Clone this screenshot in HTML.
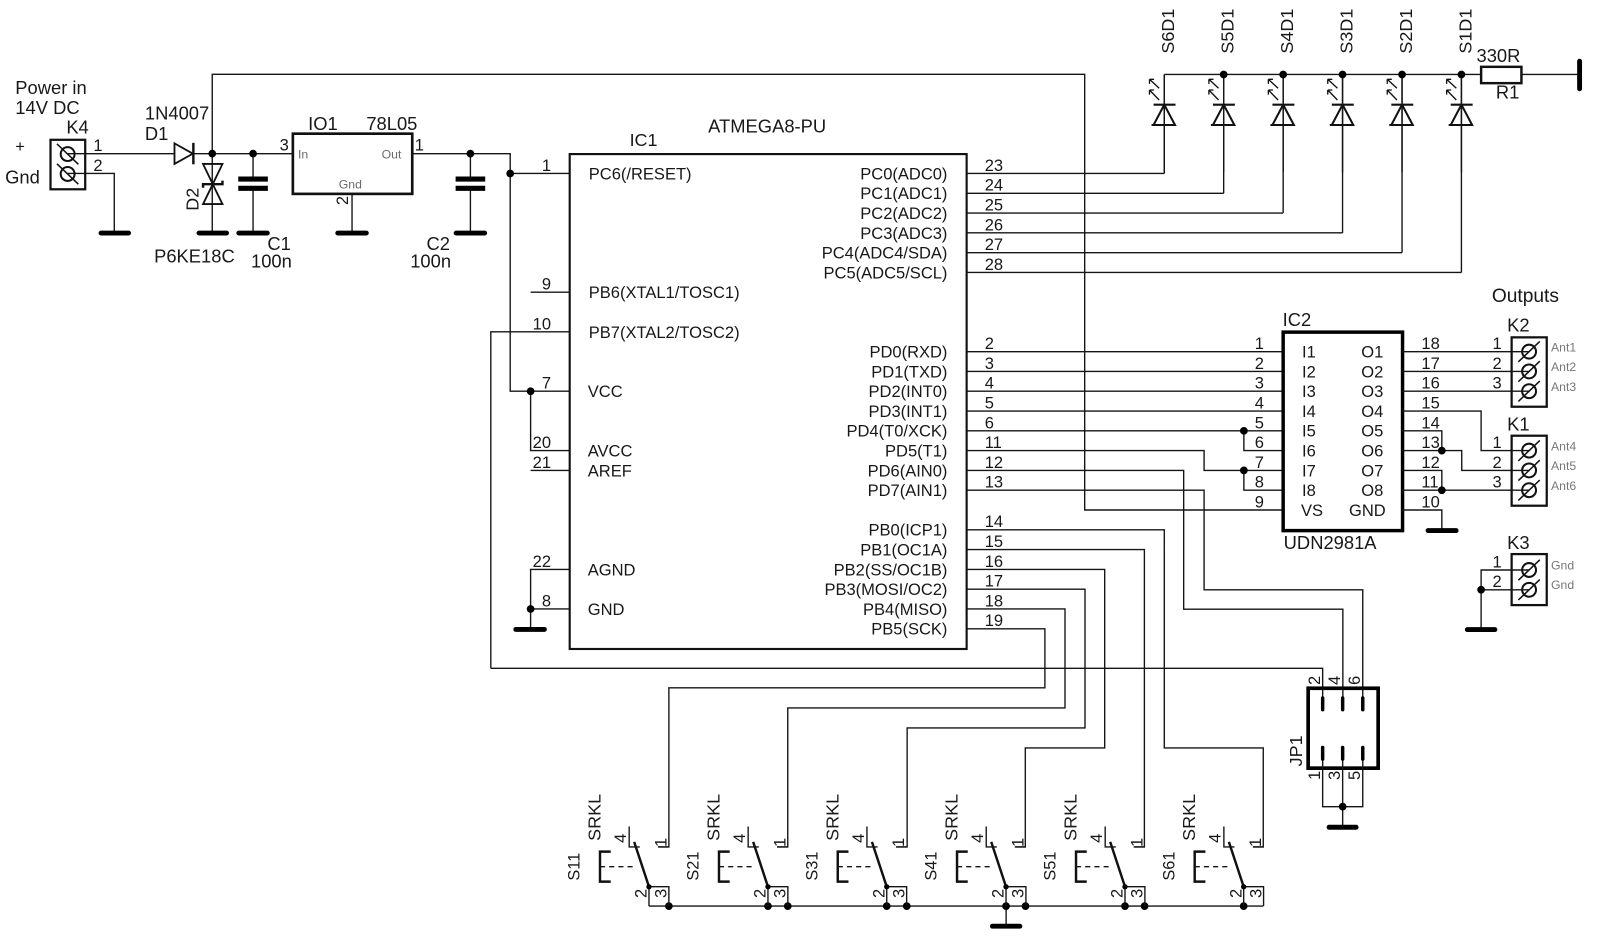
<!DOCTYPE html>
<html><head><meta charset="utf-8"><title>Schematic</title>
<style>
html,body{margin:0;padding:0;background:#fff}
svg{display:block;width:1600px;height:946px}
text{font-family:"Liberation Sans",Arial,sans-serif;font-size:16.2px;fill:#181818}
.a{font-size:18px}
.k{font-size:17.6px}
.s{font-size:16px}
.g{font-size:12px;fill:#6a6a6a}
.h{font-size:12px;fill:#777}
.r{text-anchor:end}
.w{fill:none;stroke:#151515;stroke-width:1.35}
.n{fill:none;stroke:#000;stroke-width:7.6;stroke-linecap:round}
.t{fill:none;stroke:#000;stroke-width:4.8;stroke-linecap:round}
.b{fill:none;stroke:#111;stroke-width:2.4}
</style></head><body>
<svg xmlns="http://www.w3.org/2000/svg" viewBox="0 0 1568 927.08">
<defs>
<g id="led" fill="none" stroke="#111">
<path d="M0 0V96" stroke-width="1.35"/>
<path d="M-10.5 29.6H11M0 29.6L10.5 49.5H-10.5Z M-12.5 49.5H-9" stroke-width="2"/>
<path d="M-14.5 4.7L-5 13.5M-14.5 15.2L-5 25M-14.5 4.7h4.5M-14.5 4.7v4.5M-14.5 15.2h4.5M-14.5 15.2v4.5" stroke-width="1.3"/>
</g>
<g id="scr" fill="none" stroke="#111">
<circle r="6.8" stroke-width="2"/><path d="M-10.5 10L10.5-10" stroke-width="1.5"/>
</g>
<g id="scl" fill="none" stroke="#111">
<circle r="6.8" stroke-width="2"/><path d="M-10.5-10L10.5 10" stroke-width="1.5"/>
</g>
<g id="sw">
<path class="w" d="M-19.4-59V-39H-9M9-39H19.5M0 0H19.5V19M0 0V19"/>
<path class="b" d="M0 0L-14.5-44"/>
<path class="b" d="M-37.5-34.4H-48V-5H-37.5"/>
<path class="w" d="M-48-19.6H-15" stroke-dasharray="5 4"/>
<circle r="2.6" fill="#000"/>
</g>
</defs>

<!-- power section -->
<path class="w" d="M66 150.6H171M66 170H112V228.4M189 150.6H287M208 150.6V72.8H1063V499.8H1257M208 150.6V228.4M248 150.6V175M248 184.5V228.4M345 190V228.4M404 150.6H500V383.4H558M461 150.6V175M461 184.5V228.4M500 170H558"/>
<path d="M171 140.5L189 150.6L171 160.7Z" fill="none" stroke="#111" stroke-width="1.8"/>
<path class="b" d="M189.5 140V161"/>
<path d="M199 160.7H218L208.5 180.5ZM199 200H218L208.5 180.5Z" fill="none" stroke="#111" stroke-width="1.8"/>
<path class="b" d="M199 184V180.5H218V177"/>
<rect x="49.5" y="137" width="34" height="48.5" fill="none" stroke="#111" stroke-width="2.2"/>
<use href="#scl" x="66.3" y="151"/><use href="#scl" x="66.3" y="170.5"/>
<path d="M233.5 175.5H262.5M233.5 184.5H262.5M446.5 175.5H475.5M446.5 184.5H475.5" fill="none" stroke="#000" stroke-width="5"/>
<rect x="287" y="131" width="117" height="59" fill="none" stroke="#111" stroke-width="2.6"/>
<path class="t" d="M99 228.4H126M195 228.4H222M234 228.4H262M331 228.4H359M447 228.4H475"/>
<path class="n" d="M208 150.6h0M248 150.6h0M461 150.6h0M500 170h0"/>

<text x="15" y="92" class="a">Power in</text><text x="15" y="111.7" class="a">14V DC</text>
<text x="65" y="131" class="a">K4</text><text x="15" y="149">+</text><text x="5" y="179.6" class="a">Gnd</text>
<text x="91.5" y="148.2">1</text><text x="91.5" y="167.5">2</text>
<text x="142" y="117" class="a">1N4007</text><text x="142" y="137" class="a">D1</text>
<text x="302" y="127.4" class="a">IO1</text><text x="359" y="127.4" class="a">78L05</text>
<text x="274" y="147.7">3</text><text x="406.5" y="147.7">1</text>
<text x="292" y="155.5" class="g">In</text><text x="374" y="155.5" class="g">Out</text><text x="332" y="184.5" class="g">Gnd</text>
<text transform="translate(341 201) rotate(-90)">2</text>
<text transform="translate(194.5 206.5) rotate(-90)" class="k">D2</text>
<text x="151" y="257.4" class="a">P6KE18C</text>
<text x="262" y="245" class="a">C1</text><text x="246" y="262" class="a">100n</text>
<text x="418" y="245" class="a">C2</text><text x="402" y="262" class="a">100n</text>

<!-- IC1 -->
<rect x="558.3" y="151" width="389" height="485" fill="none" stroke="#111" stroke-width="2.1"/>
<text x="617" y="143" class="k">IC1</text><text x="694" y="130" class="a">ATMEGA8-PU</text>
<path class="w" d="M520 286.4H558M481 655V325.2H558M520 383.4V441.6H558M520 461H558M558 558H520V616.2M520 596.8H558"/>
<path class="t" d="M505.5 616.8H533.5"/>
<path class="n" d="M520 383.4h0M520 596.8h0"/>
<text x="540" y="167.5" class="r">1</text><text x="540" y="283.9" class="r">9</text><text x="540" y="322.7" class="r">10</text>
<text x="540" y="380.9" class="r">7</text><text x="540" y="439.1" class="r">20</text><text x="540" y="458.5" class="r">21</text>
<text x="540" y="555.5" class="r">22</text><text x="540" y="594.3" class="r">8</text>
<text x="577" y="175.8">PC6(/RESET)</text><text x="577" y="292.2">PB6(XTAL1/TOSC1)</text><text x="577" y="331">PB7(XTAL2/TOSC2)</text>
<text x="576" y="389.2">VCC</text><text x="576" y="447.4">AVCC</text><text x="576" y="466.8">AREF</text>
<text x="576" y="563.8">AGND</text><text x="576" y="602.6">GND</text>

<text x="928.5" y="175.8" class="r">PC0(ADC0)</text><text x="928.5" y="195.2" class="r">PC1(ADC1)</text><text x="928.5" y="214.6" class="r">PC2(ADC2)</text>
<text x="928.5" y="234" class="r">PC3(ADC3)</text><text x="928.5" y="253.4" class="r">PC4(ADC4/SDA)</text><text x="928.5" y="272.8" class="r">PC5(ADC5/SCL)</text>
<text x="928.5" y="350.4" class="r">PD0(RXD)</text><text x="928.5" y="369.8" class="r">PD1(TXD)</text><text x="928.5" y="389.2" class="r">PD2(INT0)</text>
<text x="928.5" y="408.6" class="r">PD3(INT1)</text><text x="928.5" y="428" class="r">PD4(T0/XCK)</text><text x="928.5" y="447.4" class="r">PD5(T1)</text>
<text x="928.5" y="466.8" class="r">PD6(AIN0)</text><text x="928.5" y="486.2" class="r">PD7(AIN1)</text>
<text x="928.5" y="525" class="r">PB0(ICP1)</text><text x="928.5" y="544.4" class="r">PB1(OC1A)</text><text x="928.5" y="563.8" class="r">PB2(SS/OC1B)</text>
<text x="928.5" y="583.2" class="r">PB3(MOSI/OC2)</text><text x="928.5" y="602.6" class="r">PB4(MISO)</text><text x="928.5" y="622" class="r">PB5(SCK)</text>

<text x="965" y="167.5">23</text><text x="965" y="186.9">24</text><text x="965" y="206.3">25</text><text x="965" y="225.7">26</text><text x="965" y="245.1">27</text><text x="965" y="264.5">28</text>
<text x="965" y="342.1">2</text><text x="965" y="361.5">3</text><text x="965" y="380.9">4</text><text x="965" y="400.3">5</text><text x="965" y="419.7">6</text><text x="965" y="439.1">11</text><text x="965" y="458.5">12</text><text x="965" y="477.9">13</text>
<text x="965" y="516.7">14</text><text x="965" y="536.1">15</text><text x="965" y="555.5">16</text><text x="965" y="574.9">17</text><text x="965" y="594.3">18</text><text x="965" y="613.7">19</text>

<!-- right wires of IC1 -->
<path class="w" d="M947 170H1141M947 189.4H1199.2M947 208.8H1257.5M947 228.2H1315.7M947 247.6H1374M947 267H1432.2"/>
<path class="w" d="M947 344.6H1257M947 364H1257M947 383.4H1257M947 402.8H1257M947 422.2H1257M1219 422.2V441.6H1257M947 441.6H1180V461H1257M1219 461V480.4H1257M947 461H1160V597H1316V683M947 480.4H1180V578H1335.5V683"/>
<path class="w" d="M947 519.2H1141V733H1238V830H1228M947 538.6H1121.5V830H1111M947 558H1082.6V733H1004.8V830H994.5M947 577.4H1063.3V713.4H889V830H878.5M947 596.8H1043.7V693.8H772V830H761.5M947 616.2H1024V674H655.5V830H645"/>
<path class="w" d="M481 655H1296.2V683"/>
<path class="n" d="M1219 422.2h0M1219 461h0"/>

<!-- LEDs -->
<path class="w" d="M1141 73H1451.5M1491 73H1548"/>
<use href="#led" x="1141" y="73"/><use href="#led" x="1199.2" y="73"/><use href="#led" x="1257.5" y="73"/><use href="#led" x="1315.7" y="73"/><use href="#led" x="1374" y="73"/><use href="#led" x="1432.2" y="73"/>
<path class="w" d="M1141 73V170M1199.2 73V189.4M1257.5 73V208.8M1315.7 73V228.2M1374 73V247.6M1432.2 73V267"/>
<path class="n" d="M1199.2 73h0M1257.5 73h0M1315.7 73h0M1374 73h0M1432.2 73h0"/>
<rect x="1451.5" y="65.5" width="39.5" height="16" fill="none" stroke="#111" stroke-width="2.4"/>
<path class="t" d="M1548 60V87"/>
<text transform="translate(1150.6 52.5) rotate(-90)" class="k">S6D1</text>
<text transform="translate(1208.7 52.5) rotate(-90)" class="k">S5D1</text>
<text transform="translate(1267 52.5) rotate(-90)" class="k">S4D1</text>
<text transform="translate(1325.6 52.5) rotate(-90)" class="k">S3D1</text>
<text transform="translate(1384 52.5) rotate(-90)" class="k">S2D1</text>
<text transform="translate(1442 52.5) rotate(-90)" class="k">S1D1</text>
<text x="1447" y="61" class="a">330R</text><text x="1466" y="96.7" class="a">R1</text>

<!-- IC2 -->
<rect x="1257.5" y="325.5" width="117" height="194.5" fill="none" stroke="#000" stroke-width="3.4"/>
<text x="1257" y="319.5" class="a">IC2</text><text x="1258" y="538" class="a">UDN2981A</text>
<text x="1238.7" y="342.1" class="r">1</text><text x="1238.7" y="361.5" class="r">2</text><text x="1238.7" y="380.9" class="r">3</text><text x="1238.7" y="400.3" class="r">4</text><text x="1238.7" y="419.7" class="r">5</text><text x="1238.7" y="439.1" class="r">6</text><text x="1238.7" y="458.5" class="r">7</text><text x="1238.7" y="477.9" class="r">8</text><text x="1238.7" y="497.3" class="r">9</text>
<text x="1276" y="350.4">I1</text><text x="1276" y="369.8">I2</text><text x="1276" y="389.2">I3</text><text x="1276" y="408.6">I4</text><text x="1276" y="428">I5</text><text x="1276" y="447.4">I6</text><text x="1276" y="466.8">I7</text><text x="1276" y="486.2">I8</text><text x="1275" y="505.6">VS</text>
<text x="1334" y="350.4">O1</text><text x="1334" y="369.8">O2</text><text x="1334" y="389.2">O3</text><text x="1334" y="408.6">O4</text><text x="1334" y="428">O5</text><text x="1334" y="447.4">O6</text><text x="1334" y="466.8">O7</text><text x="1334" y="486.2">O8</text><text x="1322" y="505.6">GND</text>
<text x="1393" y="342.1">18</text><text x="1393" y="361.5">17</text><text x="1393" y="380.9">16</text><text x="1393" y="400.3">15</text><text x="1393" y="419.7">14</text><text x="1393" y="439.1">13</text><text x="1393" y="458.5">12</text><text x="1393" y="477.9">11</text><text x="1393" y="497.3">10</text>
<path class="w" d="M1374 344.6H1498.5M1374 364H1498.5M1374 383.4H1498.5M1374 402.8H1451.5V441.6H1498.5M1374 422.2H1413V441.6M1374 441.6H1432.5V461H1498.5M1374 461H1413V480.4M1374 480.4H1498.5M1374 499.8H1413V520"/>
<path class="t" d="M1399.5 520H1427"/>
<path class="n" d="M1413 441.6h0M1413 480.4h0"/>

<!-- connectors -->
<rect x="1481.4" y="330.6" width="34.4" height="68" fill="none" stroke="#111" stroke-width="2.2"/>
<rect x="1481.4" y="427" width="34.4" height="68.6" fill="none" stroke="#111" stroke-width="2.2"/>
<rect x="1481.4" y="543" width="34.4" height="50" fill="none" stroke="#111" stroke-width="2.2"/>
<use href="#scr" x="1498.5" y="344.6"/><use href="#scr" x="1498.5" y="364"/><use href="#scr" x="1498.5" y="383.4"/>
<use href="#scr" x="1498.5" y="441.6"/><use href="#scr" x="1498.5" y="461"/><use href="#scr" x="1498.5" y="480.4"/>
<use href="#scr" x="1498.5" y="558.6"/><use href="#scr" x="1498.5" y="578"/>
<text x="1462" y="296" style="font-size:18.8px">Outputs</text>
<text x="1477" y="325" class="a">K2</text><text x="1477" y="422" class="a">K1</text><text x="1477" y="538" class="a">K3</text>
<text x="1471.6" y="342.1" class="r">1</text><text x="1471.6" y="361.5" class="r">2</text><text x="1471.6" y="380.9" class="r">3</text>
<text x="1471.6" y="439.1" class="r">1</text><text x="1471.6" y="458.5" class="r">2</text><text x="1471.6" y="477.9" class="r">3</text>
<text x="1471.6" y="556" class="r">1</text><text x="1471.6" y="575.4" class="r">2</text>
<text x="1520" y="344.4" class="h">Ant1</text><text x="1520" y="363.8" class="h">Ant2</text><text x="1520" y="383.2" class="h">Ant3</text>
<text x="1520" y="441.4" class="h">Ant4</text><text x="1520" y="460.8" class="h">Ant5</text><text x="1520" y="480.2" class="h">Ant6</text>
<text x="1520" y="558" class="h">Gnd</text><text x="1520" y="577.4" class="h">Gnd</text>
<path class="w" d="M1498.5 558.6H1451.5V617M1451.5 578H1498.5"/>
<path class="t" d="M1438 617H1465"/>
<path class="n" d="M1451.5 578h0"/>

<!-- JP1 -->
<rect x="1282" y="674.5" width="68.6" height="78.3" fill="none" stroke="#000" stroke-width="3.6"/>
<path class="w" d="M1315.8 683V696M1335.5 683V696M1296.2 744V790.5H1335.5V744M1315.8 744V810.5"/>
<path d="M1296.2 684V695.5M1315.8 684V695.5M1335.5 684V695.5M1296.2 732.5V744M1315.8 732.5V744M1335.5 732.5V744" fill="none" stroke="#000" stroke-width="3.4" stroke-linecap="round"/>
<path class="t" d="M1302.5 810.7H1329"/>
<path class="n" d="M1315.8 790.5h0"/>
<text transform="translate(1293.6 671.3) rotate(-90)">2</text><text transform="translate(1313 671.3) rotate(-90)">4</text><text transform="translate(1332.8 671.3) rotate(-90)">6</text>
<text transform="translate(1293.6 764.4) rotate(-90)">1</text><text transform="translate(1313 764.4) rotate(-90)">3</text><text transform="translate(1332.8 764.4) rotate(-90)">5</text>
<text transform="translate(1276 751) rotate(-90)" class="k">JP1</text>

<!-- switches -->
<path class="w" d="M636 888H1238M986 888V907.7"/>
<path class="t" d="M972.5 907.7H999.5"/>
<path class="n" d="M655.5 888h0M752.6 888h0M772 888h0M869 888h0M888.6 888h0M985.9 888h0M1005 888h0M1102.5 888h0M1121.7 888h0M1218.8 888h0"/>
<use href="#sw" x="636" y="869"/><use href="#sw" x="752.6" y="869"/><use href="#sw" x="869" y="869"/><use href="#sw" x="985.9" y="869"/><use href="#sw" x="1102.5" y="869"/><use href="#sw" x="1218.8" y="869"/>

<text transform="translate(588.5 824) rotate(-90)" class="k">SRKL</text><text transform="translate(568 863) rotate(-90)" class="s">S11</text>
<text transform="translate(613.5 826) rotate(-90)">4</text><text transform="translate(653 830) rotate(-90)">1</text><text transform="translate(633.7 880) rotate(-90)">2</text><text transform="translate(653.3 880) rotate(-90)">3</text>

<text transform="translate(705.1 824) rotate(-90)" class="k">SRKL</text><text transform="translate(684.6 863) rotate(-90)" class="s">S21</text>
<text transform="translate(730.1 826) rotate(-90)">4</text><text transform="translate(769.6 830) rotate(-90)">1</text><text transform="translate(750.3 880) rotate(-90)">2</text><text transform="translate(769.9 880) rotate(-90)">3</text>

<text transform="translate(821.5 824) rotate(-90)" class="k">SRKL</text><text transform="translate(801 863) rotate(-90)" class="s">S31</text>
<text transform="translate(846.5 826) rotate(-90)">4</text><text transform="translate(886 830) rotate(-90)">1</text><text transform="translate(866.7 880) rotate(-90)">2</text><text transform="translate(886.3 880) rotate(-90)">3</text>

<text transform="translate(938.4 824) rotate(-90)" class="k">SRKL</text><text transform="translate(917.9 863) rotate(-90)" class="s">S41</text>
<text transform="translate(963.4 826) rotate(-90)">4</text><text transform="translate(1002.9 830) rotate(-90)">1</text><text transform="translate(983.6 880) rotate(-90)">2</text><text transform="translate(1003.2 880) rotate(-90)">3</text>

<text transform="translate(1055 824) rotate(-90)" class="k">SRKL</text><text transform="translate(1034.5 863) rotate(-90)" class="s">S51</text>
<text transform="translate(1080 826) rotate(-90)">4</text><text transform="translate(1119.5 830) rotate(-90)">1</text><text transform="translate(1100.2 880) rotate(-90)">2</text><text transform="translate(1119.8 880) rotate(-90)">3</text>

<text transform="translate(1171.3 824) rotate(-90)" class="k">SRKL</text><text transform="translate(1150.8 863) rotate(-90)" class="s">S61</text>
<text transform="translate(1196.3 826) rotate(-90)">4</text><text transform="translate(1235.8 830) rotate(-90)">1</text><text transform="translate(1216.5 880) rotate(-90)">2</text><text transform="translate(1236.1 880) rotate(-90)">3</text>
</svg>
</body></html>
